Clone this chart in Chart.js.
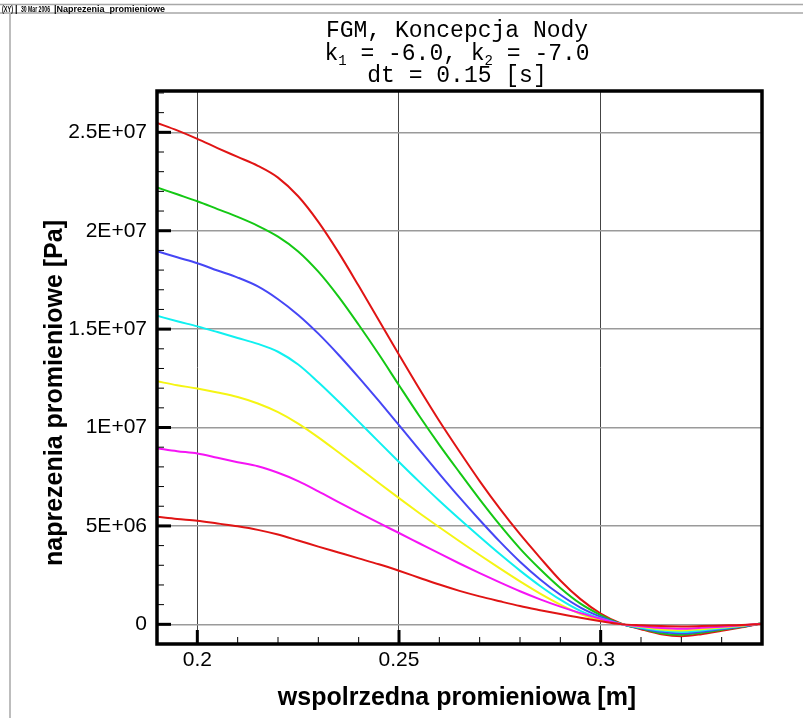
<!DOCTYPE html>
<html>
<head>
<meta charset="utf-8">
<script src="https://cdn.jsdelivr.net/npm/chart.js@4.4.0/dist/chart.umd.min.js"></script>
<style>
  body { margin: 0; background: #fff; }
  canvas { display: block; }
</style>
</head>
<body>
<canvas id="stressChart" width="803" height="718"></canvas>
<script>
// radial coordinate [m]
const radius = [0.19, 0.195, 0.2, 0.205, 0.21, 0.215, 0.22, 0.225, 0.23, 0.235, 0.24, 0.245, 0.25, 0.255, 0.26,
  0.265, 0.27, 0.275, 0.28, 0.285, 0.29, 0.295, 0.3, 0.305, 0.31, 0.315, 0.32, 0.325, 0.33, 0.335, 0.34];

// radial stress [Pa], one array per curve (top to bottom)
const stressRed = [25.48e6, 25.1e6, 24.67e6, 24.2e6, 23.75e6, 23.3e6, 22.7e6, 21.75e6, 20.45e6, 18.9e6, 17.2e6, 15.45e6, 13.7e6, 11.98e6, 10.33e6,
  8.78e6, 7.28e6, 5.88e6, 4.58e6, 3.38e6, 2.23e6, 1.28e6, 0.55e6, 0.05e6, -0.25e6, -0.5e6, -0.6e6, -0.5e6, -0.33e6, -0.15e6, 0.05e6];
const stressGreen = [22.2e6, 21.85e6, 21.5e6, 21.1e6, 20.7e6, 20.25e6, 19.7e6, 18.95e6, 17.92e6, 16.65e6, 15.22e6, 13.72e6, 12.15e6, 10.6e6, 9.12e6,
  7.72e6, 6.35e6, 5.05e6, 3.85e6, 2.8e6, 1.85e6, 1.05e6, 0.47e6, 0.03e6, -0.22e6, -0.45e6, -0.53e6, -0.43e6, -0.28e6, -0.13e6, 0.05e6];
const stressBlue = [18.96e6, 18.65e6, 18.35e6, 17.98e6, 17.62e6, 17.17e6, 16.52e6, 15.72e6, 14.77e6, 13.7e6, 12.55e6, 11.35e6, 10.12e6, 8.88e6, 7.65e6,
  6.45e6, 5.3e6, 4.2e6, 3.18e6, 2.28e6, 1.5e6, 0.85e6, 0.38e6, 0.02e6, -0.2e6, -0.38e6, -0.46e6, -0.37e6, -0.24e6, -0.11e6, 0.05e6];
const stressCyan = [15.68e6, 15.4e6, 15.14e6, 14.85e6, 14.55e6, 14.25e6, 13.85e6, 13.2e6, 12.3e6, 11.32e6, 10.3e6, 9.27e6, 8.25e6, 7.25e6, 6.28e6,
  5.35e6, 4.45e6, 3.57e6, 2.73e6, 1.95e6, 1.25e6, 0.68e6, 0.3e6, 0.02e6, -0.17e6, -0.32e6, -0.39e6, -0.31e6, -0.2e6, -0.09e6, 0.05e6];
const stressYellow = [12.35e6, 12.15e6, 11.98e6, 11.78e6, 11.55e6, 11.22e6, 10.78e6, 10.2e6, 9.5e6, 8.74e6, 7.96e6, 7.18e6, 6.41e6, 5.66e6, 4.93e6,
  4.22e6, 3.52e6, 2.84e6, 2.18e6, 1.56e6, 1.0e6, 0.52e6, 0.2e6, 0.01e6, -0.13e6, -0.26e6, -0.31e6, -0.25e6, -0.16e6, -0.07e6, 0.04e6];
const stressMagenta = [8.95e6, 8.8e6, 8.68e6, 8.46e6, 8.24e6, 8.03e6, 7.7e6, 7.28e6, 6.76e6, 6.21e6, 5.67e6, 5.15e6, 4.64e6, 4.12e6, 3.6e6,
  3.09e6, 2.6e6, 2.13e6, 1.68e6, 1.27e6, 0.9e6, 0.57e6, 0.28e6, 0.01e6, -0.1e6, -0.19e6, -0.23e6, -0.18e6, -0.12e6, -0.05e6, 0.03e6];
const stressDarkRed = [5.46e6, 5.35e6, 5.26e6, 5.12e6, 4.98e6, 4.8e6, 4.56e6, 4.26e6, 3.95e6, 3.65e6, 3.35e6, 3.05e6, 2.72e6, 2.37e6, 2.02e6,
  1.7e6, 1.42e6, 1.17e6, 0.93e6, 0.72e6, 0.52e6, 0.33e6, 0.16e6, 0.01e6, -0.05e6, -0.09e6, -0.11e6, -0.09e6, -0.06e6, -0.03e6, 0.02e6];

const allSeries = [stressRed, stressGreen, stressBlue, stressCyan, stressYellow, stressMagenta, stressDarkRed];
const lineColors = ['#e01414', '#14c814', '#4646f5', '#10f0f0', '#f5f514', '#f514f5', '#e01414'];

// labelled ticks
const xTickValues = [0.2, 0.25, 0.3];
const yTickValues = [0, 5e6, 1e7, 1.5e7, 2e7, 2.5e7];

const titleLines = ['FGM, Koncepcja Nody', 'dt = 0.15 [s]'];
const k1Text = '-6.0';
const k2Text = '-7.0';
const xTitle = 'wspolrzedna promieniowa [m]';
const yTitle = 'naprezenia promieniowe [Pa]';
const headerParts = ['(XY)', '|', '30 Mar 2006', '|Naprezenia_promieniowe'];

function sciLabel(v) {
  if (v === 0) return '0';
  const e = Math.floor(Math.log10(Math.abs(v)));
  const m = +(v / Math.pow(10, e)).toFixed(3);
  return m + 'E+' + String(e).padStart(2, '0');
}

const datasets = allSeries.map((s, i) => ({
  label: 'curve ' + (i + 1),
  data: radius.map((r, j) => ({ x: r, y: s[j] })),
  borderColor: lineColors[i],
  borderWidth: 2,
  pointRadius: 0,
  fill: false,
  cubicInterpolationMode: 'monotone',
  order: allSeries.length - i
}));

// page decoration, titles, frame and inward ticks (Tecplot look)
const frame = {
  id: 'frame',
  beforeDraw(chart) {
    const c = chart.ctx;
    c.save();
    c.fillStyle = '#fff';
    c.fillRect(0, 0, chart.width, chart.height);

    c.strokeStyle = '#a8a8a8';
    c.lineWidth = 1.5;
    c.beginPath();
    c.moveTo(0, 4.5); c.lineTo(chart.width, 4.5);
    c.moveTo(0, 13); c.lineTo(chart.width, 13);
    c.moveTo(10, 13); c.lineTo(10, chart.height);
    c.stroke();

    c.fillStyle = '#000';
    c.font = 'bold 9px "Liberation Sans"';
    c.textBaseline = 'alphabetic';
    const hx = [2, 15, 21, 54];
    const hw = [11, 3, 29, 111];
    headerParts.forEach((t, i) => c.fillText(t, hx[i], 11.5, hw[i]));

    // title
    const cx = 457;
    c.font = '23px "Liberation Mono"';
    c.textAlign = 'center';
    c.fillText(titleLines[0], cx, 37);
    c.fillText(titleLines[1], cx, 82);

    // second line with subscripts
    const big = '23px "Liberation Mono"', small = '14px "Liberation Mono"';
    const pieces = [['k', big, 0], ['1', small, 5], [' = ' + k1Text + ', k', big, 0], ['2', small, 5], [' = ' + k2Text, big, 0]];
    let w = 0;
    pieces.forEach(p => { c.font = p[1]; w += c.measureText(p[0]).width; });
    let x = cx - w / 2;
    c.textAlign = 'left';
    pieces.forEach(p => {
      c.font = p[1];
      c.fillText(p[0], x, 59.5 + p[2]);
      x += c.measureText(p[0]).width;
    });

    // axis titles
    c.font = 'bold 25px "Liberation Sans"';
    c.textAlign = 'center';
    c.fillText(xTitle, 457, 705);
    c.translate(62, 393);
    c.rotate(-Math.PI / 2);
    c.fillText(yTitle, 0, 0);
    c.restore();
  },
  afterDraw(chart) {
    const c = chart.ctx, a = chart.chartArea;
    const xs = chart.scales.x, ys = chart.scales.y;
    c.save();
    c.strokeStyle = '#000';
    // y ticks every 1E+06, major every 5E+06
    for (let k = 0; k <= 27; k++) {
      const py = ys.getPixelForValue(k * 1e6);
      const major = k % 5 === 0;
      c.lineWidth = major ? 3 : 1;
      c.beginPath();
      c.moveTo(a.left, py);
      c.lineTo(a.left + (major ? 14 : 7), py);
      c.stroke();
    }
    // x ticks every 0.01, major every 0.05
    for (let k = 20; k <= 33; k++) {
      const px = xs.getPixelForValue(k / 100);
      const major = k % 5 === 0;
      c.lineWidth = major ? 3 : 1;
      c.beginPath();
      c.moveTo(px, a.bottom);
      c.lineTo(px, a.bottom - (major ? 14 : 7));
      c.stroke();
    }
    c.lineWidth = 3.5;
    c.strokeRect(a.left, a.top, a.right - a.left, a.bottom - a.top);
    c.restore();
  }
};

const config = {
  type: 'line',
  data: { datasets: datasets },
  options: {
    responsive: false,
    animation: false,
    layout: { padding: { top: 91, right: 41, bottom: 0, left: 0 } },
    plugins: {
      legend: { display: false },
      title: { display: false },
      tooltip: { enabled: false }
    },
    scales: {
      x: {
        type: 'linear',
        min: 0.19,
        max: 0.34,
        afterBuildTicks: s => { s.ticks = xTickValues.map(v => ({ value: v })); },
        afterFit: s => { s.height = 74; },
        border: { display: false },
        grid: { color: '#444', lineWidth: 1, drawTicks: false },
        ticks: {
          padding: 4,
          color: '#000',
          font: { family: 'Liberation Sans', size: 21 },
          callback: v => String(+v.toFixed(3))
        }
      },
      y: {
        min: -1e6,
        max: 2.71e7,
        afterBuildTicks: s => { s.ticks = yTickValues.map(v => ({ value: v })); },
        afterFit: s => { s.width = 157; },
        border: { display: false },
        grid: { color: '#9a9a9a', lineWidth: 1.5, drawTicks: false },
        ticks: {
          padding: 10,
          color: '#000',
          font: { family: 'Liberation Sans', size: 21 },
          callback: v => sciLabel(v)
        }
      }
    }
  },
  plugins: [frame]
};

new Chart(document.getElementById('stressChart').getContext('2d'), config);
</script>
</body>
</html>
